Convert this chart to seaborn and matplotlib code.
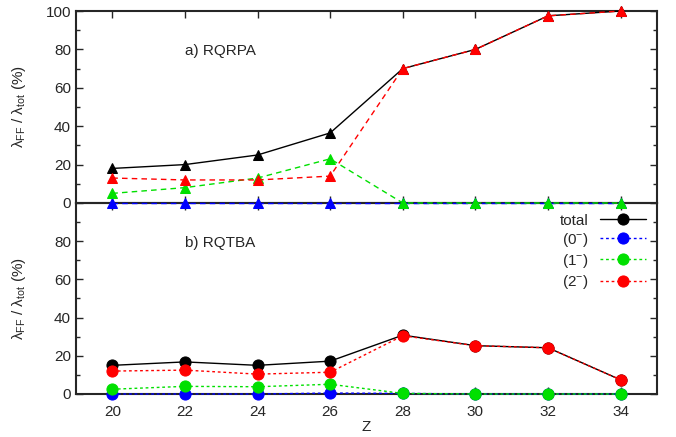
import matplotlib
matplotlib.use("Agg")
import matplotlib.pyplot as plt
import seaborn as sns
import pandas as pd

# Z values (shared by both panels)
z = [20, 22, 24, 26, 28, 30, 32, 34]

# a) RQRPA
rqrpa_total = [18, 20, 25, 36.5, 70, 80, 97.5, 100]
rqrpa_0m = [0, 0, 0, 0, 0, 0, 0, 0]
rqrpa_1m = [5, 8, 13, 23, 0, 0, 0, 0]
rqrpa_2m = [13, 12, 12, 14, 70, 80, 97.5, 100]

# b) RQTBA
rqtba_total = [15, 16.8, 15, 17.2, 30.8, 25.3, 24.2, 7.4]
rqtba_0m = [0, 0, 0, 0.5, 0.3, 0, 0, 0]
rqtba_1m = [2.5, 4, 3.8, 5.1, 0.3, 0, 0, 0]
rqtba_2m = [12, 12.5, 10.4, 11.4, 30.5, 25.3, 24.2, 7.4]

labels = ["total", r"(0$^{-}$)", r"(1$^{-}$)", r"(2$^{-}$)"]
colors = ["black", "#0000ff", "#00e000", "#ff0000"]

sns.set_style("ticks")
plt.rcParams["font.family"] = ["Liberation Sans", "DejaVu Sans"]
plt.rcParams["mathtext.fontset"] = "custom"
plt.rcParams["mathtext.rm"] = "Liberation Sans"
plt.rcParams["mathtext.it"] = "Liberation Sans:italic"
plt.rcParams["mathtext.default"] = "regular"

fig = plt.figure(figsize=(6.76, 4.37), dpi=100)
ax_top = fig.add_axes([0.1124, 0.5355, 0.8595, 0.4393])
ax_bot = fig.add_axes([0.1124, 0.0984, 0.8595, 0.4371])
# keep the top panel's markers at Z axis (y=0) visible over the lower panel
ax_top.set_zorder(2)
ax_top.patch.set_alpha(0)


def draw_panel(ax, series, marker, ms, dash):
    for i, (vals, lab, col) in enumerate(zip(series, labels, colors)):
        df = pd.DataFrame({"Z": z, "val": vals})
        ls = "-" if i == 0 else dash
        sns.lineplot(data=df, x="Z", y="val", ax=ax, color=col, marker=marker,
                     markersize=ms, markeredgecolor=col, linestyle=ls,
                     linewidth=1.0, label=lab, zorder=3 + i, clip_on=False)
    ax.set_xlim(19, 35)
    ax.set_ylim(0, 100)
    ax.set_xticks(z)
    ax.set_yticks([0, 20, 40, 60, 80, 100])
    ax.set_yticks(range(10, 100, 20), minor=True)
    ax.tick_params(which="both", direction="in", top=True, right=True,
                   labelsize=11, width=1)
    ax.tick_params(which="major", length=5)
    ax.tick_params(which="minor", length=3)
    ax.tick_params(axis="x", pad=8)
    for sp in ax.spines.values():
        sp.set_linewidth(1.5)
    ax.set_ylabel(r"$\lambda_{FF}$ / $\lambda_{tot}$ (%)", fontsize=11)
    ax.yaxis.set_label_coords(-0.083, 0.5)


draw_panel(ax_top, [rqrpa_total, rqrpa_0m, rqrpa_1m, rqrpa_2m], "^", 7, (0, (4, 3)))
draw_panel(ax_bot, [rqtba_total, rqtba_0m, rqtba_1m, rqtba_2m], "o", 8, (0, (2, 2)))

ax_top.get_legend().remove()
ax_top.set_xlabel("")
ax_top.tick_params(labelbottom=False)
ax_top.text(22, 79, "a) RQRPA", fontsize=11, va="center")

ax_bot.set_yticks([0, 20, 40, 60, 80])
ax_bot.set_xlabel("Z", fontsize=11, labelpad=1)
ax_bot.text(22, 79, "b) RQTBA", fontsize=11, va="center")
ax_bot.legend(loc="upper right", frameon=False, markerfirst=False, fontsize=11,
              handlelength=3.0, labelspacing=0.2, borderaxespad=0.3)

fig.savefig("out.png", dpi=100)
